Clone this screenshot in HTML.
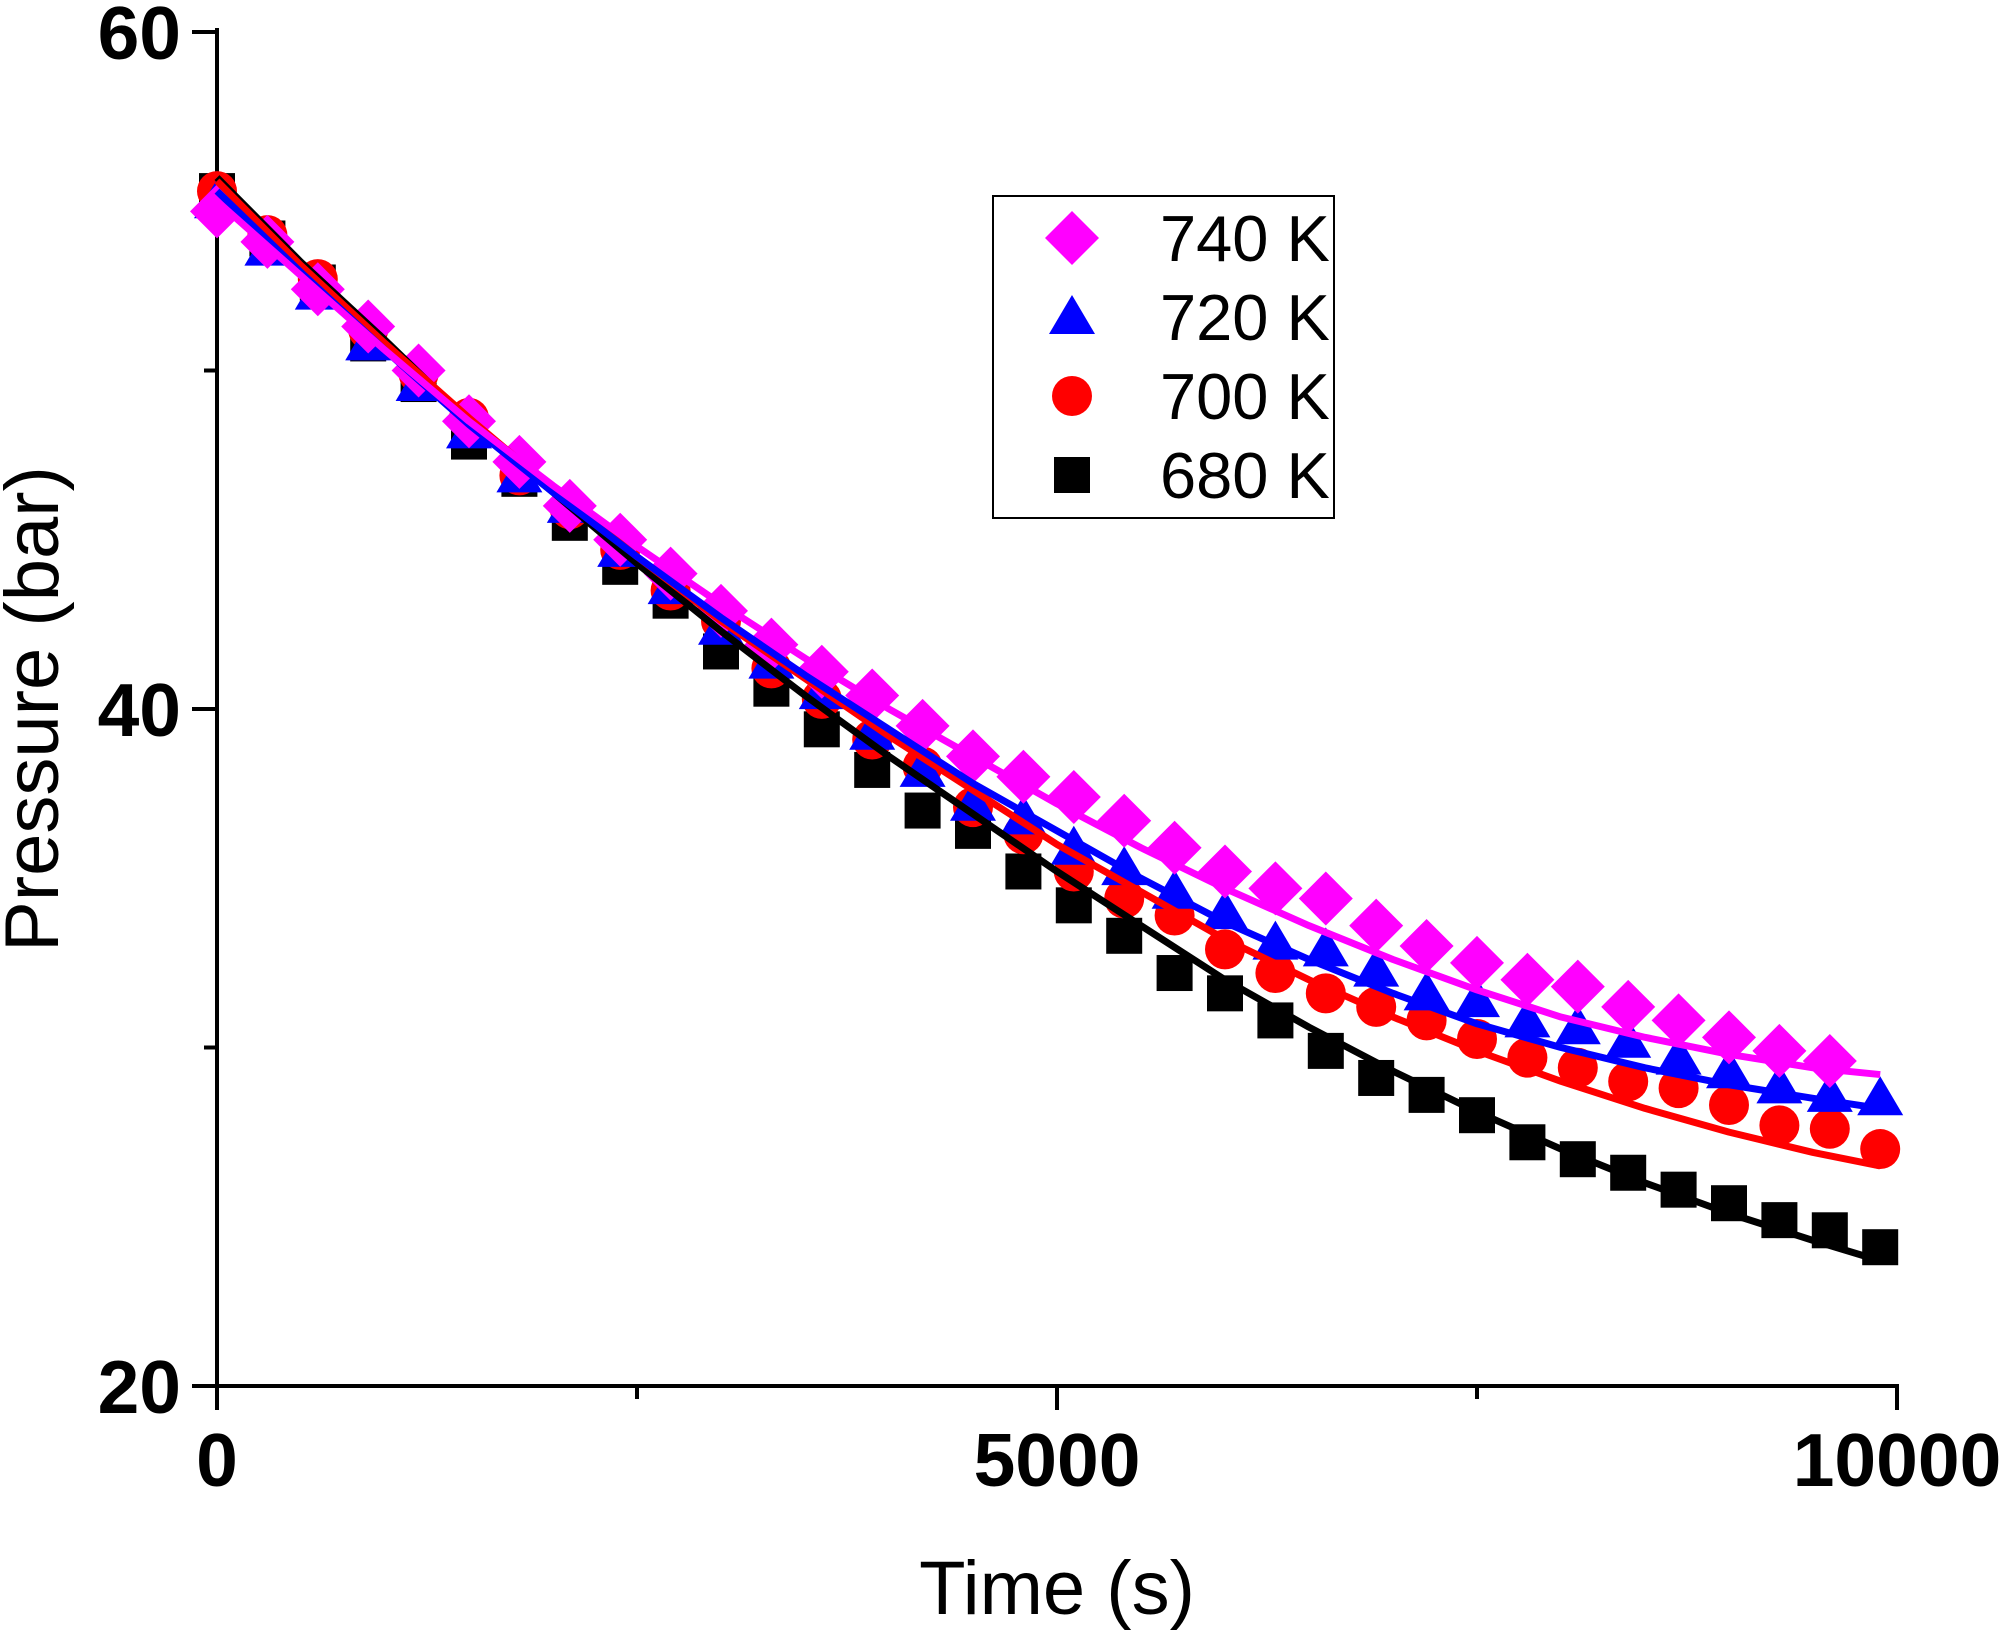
<!DOCTYPE html>
<html><head><meta charset="utf-8"><style>
html,body{margin:0;padding:0;background:#fff;}
svg{display:block;font-family:"Liberation Sans",Arial,sans-serif;}
</style></head><body>
<svg id="chart" width="2000" height="1631" viewBox="0 0 2000 1631" xmlns="http://www.w3.org/2000/svg"></svg>
<script>
const times = [0,300,600,900,1200,1500,1800,2100,2400,2700,3000,3300,3600,3900,4200,4500,4800,5100,5400,5700,6000,6300,6600,6900,7200,7500,7800,8100,8400,8700,9000,9300,9600,9900];
const p680 = [55.3,53.9,52.6,50.8,49.6,47.9,46.8,45.5,44.2,43.2,41.7,40.6,39.4,38.2,37.0,36.4,35.2,34.2,33.3,32.2,31.6,30.8,29.9,29.1,28.6,28.0,27.2,26.7,26.3,25.8,25.4,24.9,24.6,24.1];
const p700 = [55.3,54.0,52.7,51.2,49.9,48.6,46.9,45.9,44.7,43.5,42.6,41.2,40.3,39.1,38.3,37.1,36.3,35.2,34.4,33.9,32.9,32.2,31.6,31.2,30.8,30.25,29.7,29.4,29.0,28.8,28.3,27.7,27.6,27.0];
const p720 = [55.0,53.6,52.3,50.8,49.6,48.2,46.9,46.0,44.7,43.6,42.4,41.4,40.5,39.3,38.2,37.2,36.8,35.9,35.3,34.6,34.0,33.1,32.9,32.3,31.6,31.4,30.8,30.6,30.2,29.7,29.3,28.85,28.6,28.5];
const p740 = [54.7,53.8,52.4,51.3,50.0,48.5,47.3,46.0,45.0,44.0,42.9,41.9,41.1,40.4,39.5,38.6,38.0,37.4,36.7,35.9,35.2,34.7,34.4,33.6,33.0,32.5,32.0,31.8,31.2,30.8,30.3,29.9,29.6];
const fitT = [0,500,1000,1500,2000,2500,3000,3500,4000,4500,5000,5500,6000,6500,7000,7500,8000,8500,9000,9500,9900];
const fit680 = [55.7,53.2,50.9,48.5,46.4,44.3,42.3,40.4,38.6,36.9,35.2,33.6,32.0,30.6,29.3,28.1,27.0,26.0,25.1,24.3,23.7];
const fit700 = [55.6,53.1,50.8,48.6,46.5,44.5,42.6,40.9,39.2,37.6,36.0,34.6,33.2,32.0,30.9,29.9,29.0,28.2,27.5,26.9,26.5];
const fit720 = [55.3,52.9,50.6,48.4,46.4,44.5,42.7,41.0,39.4,37.8,36.4,35.0,33.7,32.6,31.6,30.7,30.0,29.4,28.9,28.5,28.2];
const fit740 = [55.0,52.8,50.6,48.5,46.6,44.8,43.1,41.5,40.0,38.6,37.2,35.9,34.7,33.6,32.6,31.7,30.9,30.3,29.8,29.4,29.2];
const xTicks = [0,5000,10000];
const xMinor = [2500,7500];
const yTicks = [20,40,60];
const yMinor = [30,50];
const legendLabels = ["740 K","720 K","700 K","680 K"];

const NS="http://www.w3.org/2000/svg";
const svg=document.getElementById('chart');
const L=217,R=1897,T=32,B=1386;
const X=t=>L+(t/10000)*(R-L);
const Y=p=>B-((p-20)/40)*(B-T);
function mk(tag,attrs,parent){const e=document.createElementNS(NS,tag);for(const k in attrs)e.setAttribute(k,attrs[k]);(parent||svg).appendChild(e);return e;}

let ax=mk('line',{x1:L,y1:T-4,x2:L,y2:B+2,stroke:'#000','stroke-width':4});


ax=mk('line',{x1:L-2,y1:B,x2:R+2,y2:B,stroke:'#000','stroke-width':4});



xTicks.forEach(v=>{
  mk('line',{x1:X(v),y1:B,x2:X(v),y2:B+24,stroke:'#000','stroke-width':4});
  const t=mk('text',{x:X(v),y:B+100,'text-anchor':'middle','font-size':75,'font-weight':'bold'});
  t.textContent=v;
  
  
});
xMinor.forEach(v=>mk('line',{x1:X(v),y1:B,x2:X(v),y2:B+13,stroke:'#000','stroke-width':4}));
yTicks.forEach(v=>{
  mk('line',{x1:L-25,y1:Y(v),x2:L,y2:Y(v),stroke:'#000','stroke-width':4});
  const t=mk('text',{x:L-36,y:Y(v)+27,'text-anchor':'end','font-size':75,'font-weight':'bold'});
  t.textContent=v;
  
  
});
yMinor.forEach(v=>mk('line',{x1:L-13,y1:Y(v),x2:L,y2:Y(v),stroke:'#000','stroke-width':4}));

let tt=mk('text',{x:(L+R)/2,y:1614,'text-anchor':'middle','font-size':76});
tt.textContent='Time (s)';


tt=mk('text',{x:0,y:0,'text-anchor':'middle','font-size':76,transform:'translate(58,709) rotate(-90)'});
tt.textContent='Pressure (bar)';



function marker(kind,cx,cy,color,parent){
  if(kind==='sq') return mk('rect',{x:cx-18,y:cy-18,width:36,height:36,fill:color},parent);
  if(kind==='ci') return mk('circle',{cx:cx,cy:cy,r:20,fill:color},parent);
  if(kind==='tr') return mk('polygon',{points:`${cx},${cy-22} ${cx+23},${cy+17} ${cx-23},${cy+17}`,fill:color},parent);
  return mk('polygon',{points:`${cx},${cy-27} ${cx+27},${cy} ${cx},${cy+27} ${cx-27},${cy}`,fill:color},parent);
}
const series=[
  {name:'680k',data:p680,fit:fit680,color:'#000000',kind:'sq'},
  {name:'700k',data:p700,fit:fit700,color:'#ff0000',kind:'ci'},
  {name:'720k',data:p720,fit:fit720,color:'#0000ff',kind:'tr'},
  {name:'740k',data:p740,fit:fit740,color:'#ff00ff',kind:'di'}
];
series.forEach(s=>{
  const g=mk('g',{});
  
  
  s.data.forEach((p,i)=>{
    const m=marker(s.kind,X(times[i]),Y(p),s.color,g);
    
    
  });
});
series.forEach(s=>{
  const pl=mk('polyline',{points:fitT.map((t,i)=>X(t)+','+Y(s.fit[i])).join(' '),fill:'none',stroke:s.color,'stroke-width':7,'stroke-linejoin':'round'});
  
  
});

const lg=mk('g',{});


mk('rect',{x:993,y:196,width:341,height:322,fill:'#fff',stroke:'#000','stroke-width':2},lg);
const lk=['di','tr','ci','sq'],lc=['#ff00ff','#0000ff','#ff0000','#000000'];
legendLabels.forEach((lab,i)=>{
  const cy=238+i*79;
  const e=mk('g',{},lg);
  
  
  marker(lk[i],1072,cy,lc[i],e);
  const t=mk('text',{x:1160,y:cy+23,'font-size':65},e);
  t.textContent=lab;
});
</script>
</body></html>
